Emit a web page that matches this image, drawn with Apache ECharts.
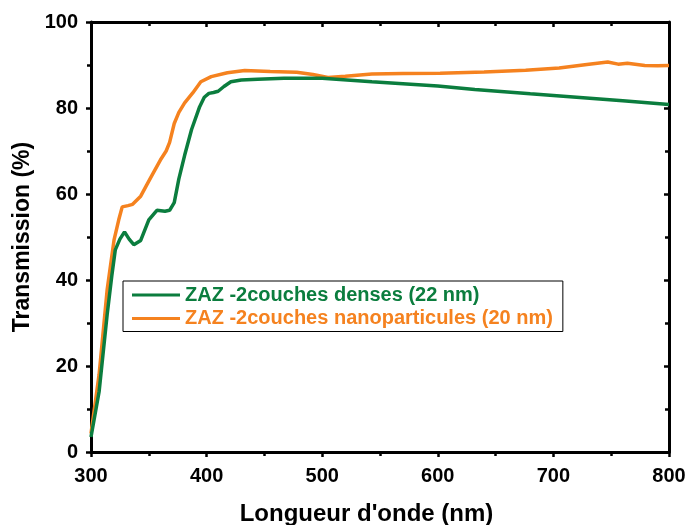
<!DOCTYPE html>
<html>
<head>
<meta charset="utf-8">
<script src="https://cdn.jsdelivr.net/npm/echarts@6/dist/echarts.min.js"></script>
<style>
  html, body { margin: 0; padding: 0; background: #fff; }
  #chart { width: 686px; height: 525px; }
</style>
</head>
<body>
<div id="chart"></div>
<script>
// Transmission spectra of two ZAZ bilayer films
const seriesNames = [
  'ZAZ -2couches denses (22 nm)',
  'ZAZ -2couches nanoparticules (20 nm)'
];

// Dense layers (22 nm)
const denseWavelength = [300, 307, 314, 318, 321, 325, 329, 333, 337, 343, 350, 357, 364, 368, 372, 376, 381, 387, 394, 398, 402, 406, 410, 415, 421, 430, 444, 467, 500, 543, 600, 632, 680, 720, 760, 800];
const denseTransmission = [3.5, 14, 32, 41, 47, 49.5, 51.2, 49.5, 48.2, 49.2, 54, 56.2, 56, 56.2, 58, 63.5, 69, 75, 80.3, 82.5, 83.4, 83.6, 83.9, 85, 86.1, 86.5, 86.7, 86.9, 86.9, 86.1, 85.1, 84.3, 83.3, 82.5, 81.7, 80.8];

// Nanoparticle layers (20 nm)
const nanoWavelength = [300, 307, 314, 320, 324, 327, 332, 336, 343, 348, 352, 360, 365, 368, 372, 376, 381, 388, 395, 404, 418, 433, 455, 478, 492, 505, 520, 543, 570, 602, 640, 676, 705, 729, 747, 756, 764, 779, 790, 800];
const nanoTransmission = [4.3, 18, 37.8, 49.4, 54, 57, 57.3, 57.6, 59.5, 62, 64, 67.9, 70, 72, 76.4, 79, 81.2, 83.5, 86.1, 87.3, 88.2, 88.7, 88.5, 88.3, 87.8, 87.1, 87.4, 87.9, 88, 88.1, 88.4, 88.8, 89.3, 90.1, 90.7, 90.2, 90.4, 89.9, 89.8, 89.9];

const xTicks = { min: 300, max: 800, step: 100 };
const yTicks = { min: 0, max: 100, step: 20 };

const colors = ['#0b7d3e', '#f5821f'];
const font = 'Liberation Sans, Arial, sans-serif';

function pairs(xs, ys) { return xs.map((x, i) => [x, ys[i]]); }

const axisLine = { show: true, onZero: false, lineStyle: { color: '#000', width: 3 } };
const tickOut = { show: true, inside: false, length: 5, lineStyle: { color: '#000', width: 2.5 } };
const tickIn = { show: true, inside: true, length: 5, lineStyle: { color: '#000', width: 2.5 } };
const minor = { show: true, splitNumber: 2, length: 4, lineStyle: { color: '#000', width: 2.5 } };
const labelStyle = { color: '#000', fontFamily: font, fontWeight: 'bold', fontSize: 20 };
const nameStyle = { fontFamily: font, fontWeight: 'bold', fontSize: 23, color: '#000' };

const chart = echarts.init(document.getElementById('chart'), null, { renderer: 'canvas' });
chart.setOption({
  animation: false,
  backgroundColor: '#fff',
  grid: { left: 91, right: 17, top: 22, bottom: 73, containLabel: false, outerBoundsMode: 'none' },
  legend: {
    orient: 'vertical',
    left: 123, top: 281,
    padding: [4, 10, 3, 9],
    itemGap: 3.5,
    itemWidth: 48, itemHeight: 3,
    borderColor: '#000', borderWidth: 1,
    icon: 'rect',
    data: seriesNames,
    formatter: name => '{s' + seriesNames.indexOf(name) + '|' + name + '}',
    textStyle: {
      rich: {
        s0: { color: colors[0], fontFamily: font, fontWeight: 'bold', fontSize: 20 },
        s1: { color: colors[1], fontFamily: font, fontWeight: 'bold', fontSize: 20 }
      }
    }
  },
  xAxis: [
    {
      type: 'value', min: xTicks.min, max: xTicks.max, interval: xTicks.step,
      name: "Longueur d'onde (nm)", nameLocation: 'middle', nameGap: 50,
      nameTextStyle: Object.assign({}, nameStyle, { fontSize: 24, padding: [0, 27, 0, 0] }),
      axisLine, axisTick: tickOut, minorTick: minor, splitLine: { show: false },
      axisLabel: Object.assign({ margin: 14 }, labelStyle)
    },
    {
      type: 'value', position: 'top', min: xTicks.min, max: xTicks.max, interval: xTicks.step,
      axisLine, axisTick: tickIn, minorTick: minor, splitLine: { show: false },
      axisLabel: { show: false }
    }
  ],
  yAxis: [
    {
      type: 'value', min: yTicks.min, max: yTicks.max, interval: yTicks.step,
      name: 'Transmission (%)', nameLocation: 'middle', nameGap: 47,
      nameTextStyle: nameStyle,
      axisLine, axisTick: tickOut, minorTick: minor, splitLine: { show: false },
      axisLabel: Object.assign({ margin: 13 }, labelStyle)
    },
    {
      type: 'value', position: 'right', min: yTicks.min, max: yTicks.max, interval: yTicks.step,
      axisLine, axisTick: tickIn, minorTick: minor, splitLine: { show: false },
      axisLabel: { show: false }
    }
  ],
  series: [
    {
      name: seriesNames[0], type: 'line', showSymbol: false,
      data: pairs(denseWavelength, denseTransmission),
      lineStyle: { color: colors[0], width: 3.5 }, itemStyle: { color: colors[0] },
      z: 3
    },
    {
      name: seriesNames[1], type: 'line', showSymbol: false,
      data: pairs(nanoWavelength, nanoTransmission),
      lineStyle: { color: colors[1], width: 3.5 }, itemStyle: { color: colors[1] },
      z: 2
    }
  ]
});
</script>
</body>
</html>
